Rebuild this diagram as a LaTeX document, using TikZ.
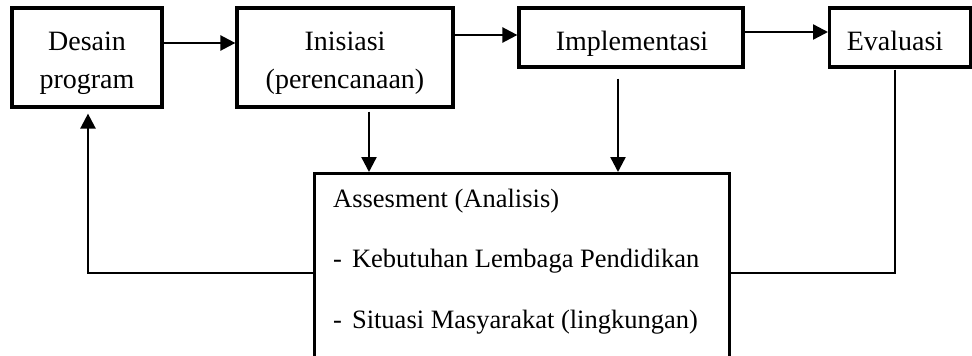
\documentclass[tikz,border=0pt]{standalone}
\usepackage{fontspec}
\setmainfont{Liberation Serif}
\usetikzlibrary{arrows.meta}
\tikzset{
  box/.style={draw=black, line width=3.2pt, inner sep=0pt},
  txt/.style={inner sep=0pt, font=\fontsize{28}{38}\selectfont, anchor=base},
  atxt/.style={inner sep=0pt, font=\fontsize{26.5}{32}\selectfont, anchor=base west},
  conn/.style={line width=2.4pt},
  arr/.style={conn, -{Triangle[length=15pt,width=15pt]}},
}
\begin{document}
\begin{tikzpicture}[x=1pt,y=-1pt]
\useasboundingbox (0,0) rectangle (972,356);
% boxes
\node[box, minimum width=150pt, minimum height=99pt] (des) at (87,57.5) {};
\node[box, minimum width=216pt, minimum height=99pt] (ini) at (345,57.5) {};
\node[box, minimum width=224pt, minimum height=59pt] (imp) at (631,37.5) {};
\node[box, minimum width=141pt, minimum height=59pt, anchor=west] (eva) at (828,37.5) {};
\node[box, minimum width=415pt, minimum height=240pt, anchor=north west] (ass) at (313,172) {};
% texts
\node[txt] (desA) at (87,50) {Desain};
\node[txt] (desB) at (87,88) {program};
\node[txt] (iniA) at (345,50) {Inisiasi};
\node[txt] (iniB) at (345,88) {(perencanaan)};
\node[txt] (impT) at (632,50) {Implementasi};
\node[txt] (evaT) at (895,50) {Evaluasi};
\node[atxt] (assA) at (333,207) {Assesment (Analisis)};
\node[atxt] (assB) at (333,267) {-\hspace{10pt}Kebutuhan Lembaga Pendidikan};
\node[atxt] (assC) at (333,328) {-\hspace{10pt}Situasi Masyarakat (lingkungan)};
% connectors
\draw[arr] (des.east |- {(0,43)}) -- (ini.west |- {(0,43)});
\draw[arr] (ini.east |- {(0,35)}) -- (imp.west |- {(0,35)});
\draw[arr] (imp.east |- {(0,32)}) -- (eva.west |- {(0,32)});
\draw[arr, shorten <=3pt] (ini.south -| {(369,0)}) -- (ass.north -| {(369,0)});
\draw[arr, shorten <=10pt] (imp.south -| {(618,0)}) -- (ass.north -| {(618,0)});
\draw[arr, shorten >=5pt] (ass.west |- {(0,273)}) -| (des.south -| {(88,0)});
\draw[conn, shorten <=1pt] (eva.south -| {(895,0)}) |- (ass.east |- {(0,273)});
\end{tikzpicture}
\end{document}
